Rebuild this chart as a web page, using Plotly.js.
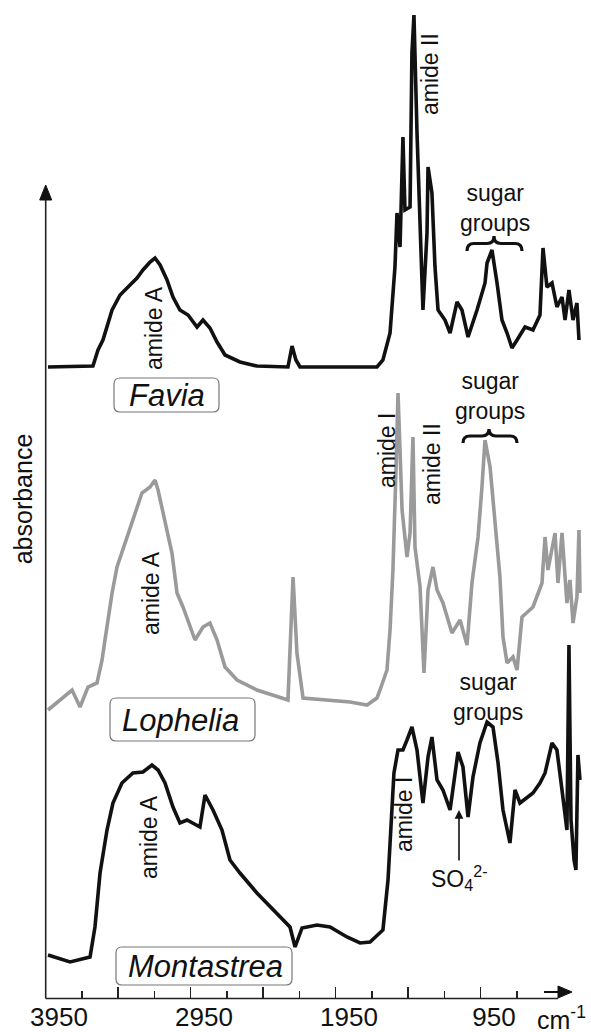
<!DOCTYPE html>
<html>
<head>
<meta charset="utf-8">
<script src="https://cdn.plot.ly/plotly-3.0.1.min.js"></script>
<style>html,body{margin:0;padding:0;background:#fff;}#chart{width:591px;height:1032px;}</style>
</head>
<body>
<div id="chart"></div>
<script>
// ---- data (wavenumber in cm-1, absorbance in arbitrary units above each spectrum's baseline) ----
const wnFavia = [4026,3716,3681,3647,3584,3529,3474,3412,3371,3322,3288,3253,3205,3164,3116,3060,2998,2957,2909,2860,2805,2702,2585,2371,2343,2316,2288,1757,1716,1667,1633,1619,1598,1578,1564,1529,1516,1502,1481,1460,1440,1412,1405,1378,1357,1336,1288,1253,1205,1171,1129,1067,1012,998,964,929,895,860,826,791,736,681,633,612,585,550,516,481,460,433,405,378,364];
const absFavia = [0.01,0.02,0.18,0.28,0.58,0.73,0.81,0.90,0.98,1.06,1.10,1.03,0.88,0.71,0.58,0.53,0.41,0.48,0.40,0.26,0.13,0.06,0.02,0.01,0.22,0.08,0.01,0.01,0.08,0.35,1.01,1.55,1.21,2.31,1.58,1.61,3.15,3.53,2.35,1.35,0.58,1.35,2.01,1.75,1.01,0.58,0.48,0.35,0.66,0.58,0.31,0.58,0.85,1.05,1.18,0.85,0.48,0.35,0.20,0.28,0.41,0.38,0.53,1.20,0.81,0.85,0.61,0.71,0.48,0.78,0.48,0.65,0.28];

const wnLophelia = [4026,3922,3860,3805,3750,3688,3653,3633,3584,3550,3495,3440,3378,3322,3288,3267,3219,3171,3136,3095,3012,2957,2909,2860,2805,2722,2585,2371,2336,2309,2267,2129,1943,1826,1757,1736,1688,1667,1647,1626,1612,1584,1550,1529,1509,1495,1460,1433,1405,1371,1343,1302,1240,1184,1136,1102,1081,1060,1033,1012,977,943,909,888,860,819,791,757,681,619,598,578,529,509,481,447,426,405,378,364,357];
const absLophelia = [-0.05,0.07,0.15,-0.02,0.18,0.22,0.45,0.65,1.12,1.38,1.62,1.85,2.12,2.18,2.25,2.15,1.85,1.52,1.12,0.98,0.65,0.78,0.82,0.65,0.38,0.25,0.15,0.05,1.28,0.52,0.07,0.05,0.03,0.00,0.07,0.15,0.35,0.75,1.35,2.35,3.12,1.95,1.48,1.72,2.68,1.58,1.18,0.32,1.15,1.38,1.15,1.02,0.72,0.85,0.60,1.22,1.48,1.68,2.18,2.65,2.38,1.85,1.28,0.68,0.42,0.48,0.35,0.88,0.98,1.22,1.68,1.35,1.72,1.22,1.72,1.02,1.25,0.82,1.08,1.75,1.12];

const wnMontastrea = [4026,3874,3736,3702,3667,3619,3578,3516,3440,3371,3309,3267,3219,3164,3116,3067,2978,2943,2888,2826,2771,2702,2585,2474,2357,2322,2274,2171,2081,1964,1874,1805,1716,1681,1667,1640,1612,1578,1550,1516,1481,1440,1405,1378,1343,1302,1253,1219,1198,1164,1129,1095,1047,998,957,922,888,840,805,771,722,681,633,598,550,516,481,447,433,419,398,385,371,357];
const absMontastrea = [0.03,-0.04,0.01,0.31,0.85,1.28,1.55,1.75,1.85,1.86,1.93,1.88,1.75,1.51,1.35,1.38,1.31,1.63,1.48,1.28,0.98,0.85,0.65,0.48,0.31,0.11,0.30,0.33,0.31,0.21,0.15,0.16,0.28,0.78,1.21,1.85,2.08,2.08,2.18,2.31,2.08,1.55,2.01,2.21,1.78,1.68,1.48,1.85,2.06,1.91,1.41,1.81,2.15,2.36,2.31,1.95,1.48,1.15,1.68,1.55,1.61,1.65,1.75,1.85,2.15,2.08,1.68,1.28,3.13,1.38,0.98,0.88,2.03,1.78];

// vertical stacking offsets of the three spectra
const offsetFavia = 6.30;
const offsetLophelia = 2.93;
const offsetMontastrea = 0.40;

// axis tick labels and tick positions
const tickLabelVals = [3950, 2950, 1950, 950];
const tickLabelText = ['3950', '2950', '1950', '950'];
const shortTickVals = [3793, 3293, 2793, 2293, 1793, 1293, 793];
const tallTickVals = [3543, 3043, 2543, 2043, 1543, 1043];

// ---- layout helpers (pixel -> paper) ----
const W = 591, H = 1032;
const PL = 45, PR = 585, PT = 0, PB = 998;
const XR = [4046.6, 322.4];
const YR = [0, 9.98];
function px(x){ return (x - PL) / (PR - PL); }
function py(y){ return (PB - y) / (PB - PT); }
function P(x, y){ return px(x) + ',' + py(y); }
function roundRect(x0, y0, x1, y1, r){
  return 'M' + P(x0 + r, y0) + ' L' + P(x1 - r, y0) + ' Q' + P(x1, y0) + ' ' + P(x1, y0 + r) +
    ' L' + P(x1, y1 - r) + ' Q' + P(x1, y1) + ' ' + P(x1 - r, y1) +
    ' L' + P(x0 + r, y1) + ' Q' + P(x0, y1) + ' ' + P(x0, y1 - r) +
    ' L' + P(x0, y0 + r) + ' Q' + P(x0, y0) + ' ' + P(x0 + r, y0) + ' Z';
}
function brace(x0, x1, xm, yb, yt){
  const ym = (yb + yt) / 2;
  return 'M' + P(x0, yb) + ' Q' + P(x0, ym) + ' ' + P(x0 + 7, ym) +
    ' L' + P(xm - 7, ym) + ' Q' + P(xm, ym) + ' ' + P(xm, yt) +
    ' Q' + P(xm, ym) + ' ' + P(xm + 7, ym) +
    ' L' + P(x1 - 7, ym) + ' Q' + P(x1, ym) + ' ' + P(x1, yb);
}

const FONT = '"Liberation Sans", Arial, Helvetica, sans-serif';
const INK = '#111111';

function shifted(arr, off){ return arr.map(v => v + off); }

const traces = [
  {x: wnFavia, y: shifted(absFavia, offsetFavia), name: 'Favia', type: 'scatter', mode: 'lines',
   line: {color: '#111111', width: 3.6}, hoverinfo: 'skip'},
  {x: wnLophelia, y: shifted(absLophelia, offsetLophelia), name: 'Lophelia', type: 'scatter', mode: 'lines',
   line: {color: '#9a9a9a', width: 3.6}, hoverinfo: 'skip'},
  {x: wnMontastrea, y: shifted(absMontastrea, offsetMontastrea), name: 'Montastrea', type: 'scatter', mode: 'lines',
   line: {color: '#111111', width: 3.6}, hoverinfo: 'skip'},
  {x: [], y: [], xaxis: 'x2', yaxis: 'y', type: 'scatter', hoverinfo: 'skip'}
];

function vtext(text, x, y){
  return {text: text, x: px(x), y: py(y), xref: 'paper', yref: 'paper', showarrow: false,
          textangle: -90, xanchor: 'center', yanchor: 'middle', font: {family: FONT, size: 23, color: INK}};
}
function htext(text, x, y, size){
  return {text: text, x: px(x), y: py(y), xref: 'paper', yref: 'paper', showarrow: false,
          xanchor: 'center', yanchor: 'middle', font: {family: FONT, size: size || 23, color: INK}};
}

const annotations = [
  vtext('amide A', 154, 328),
  vtext('amide II', 430, 74),
  htext('sugar<br>groups', 495, 208),
  htext('<i>Favia</i>', 167, 395, 31),

  vtext('amide A', 151, 593),
  vtext('amide I', 387, 451),
  vtext('amide II', 432, 464),
  htext('sugar<br>groups', 490, 396),
  htext('<i>Lophelia</i>', 180, 720, 31),

  vtext('amide A', 149, 837),
  vtext('amide I', 404, 815),
  htext('sugar<br>groups', 488, 697),
  htext('<i>Montastrea</i>', 205, 966, 31),
  {text: 'SO<sub>4</sub><sup>2-</sup>', x: px(459), y: py(810), xref: 'paper', yref: 'paper',
   showarrow: true, ax: 0, ay: 68, arrowhead: 2, arrowsize: 1.1, arrowwidth: 1.6, arrowcolor: INK,
   font: {family: FONT, size: 23, color: INK}},

  {text: 'cm<sup>-1</sup>', x: px(588), y: py(1018), xref: 'paper', yref: 'paper', showarrow: false,
   xanchor: 'right', yanchor: 'middle', font: {family: FONT, size: 25, color: INK}}
];

const axisX = 45.7, axisY = 998.5;
const shapes = [
  // vertical (absorbance) axis with arrow head
  {type: 'line', xref: 'paper', yref: 'paper', x0: px(axisX), x1: px(axisX), y0: py(axisY), y1: py(196),
   line: {color: '#222', width: 1.6}},
  {type: 'path', xref: 'paper', yref: 'paper', path: 'M' + P(axisX, 185) + ' L' + P(axisX - 6, 200) + ' L' + P(axisX + 6, 200) + ' Z',
   fillcolor: '#111', line: {color: '#111', width: 1}},
  // horizontal (wavenumber) axis
  {type: 'line', xref: 'paper', yref: 'paper', x0: px(axisX), x1: px(558), y0: py(axisY), y1: py(axisY),
   line: {color: '#222', width: 1.6}},
  // direction arrow
  {type: 'line', xref: 'paper', yref: 'paper', x0: px(544), x1: px(560), y0: py(992), y1: py(992),
   line: {color: '#111', width: 2}},
  {type: 'path', xref: 'paper', yref: 'paper', path: 'M' + P(572, 992) + ' L' + P(558, 986) + ' L' + P(558, 998) + ' Z',
   fillcolor: '#111', line: {color: '#111', width: 1}},
  // sample name boxes
  {type: 'path', xref: 'paper', yref: 'paper', path: roundRect(114, 378, 219, 412, 6), line: {color: '#777', width: 1.2}},
  {type: 'path', xref: 'paper', yref: 'paper', path: roundRect(110, 698, 255, 741, 6), line: {color: '#777', width: 1.2}},
  {type: 'path', xref: 'paper', yref: 'paper', path: roundRect(116, 947, 292, 985, 6), line: {color: '#777', width: 1.2}},
  // braces over sugar groups
  {type: 'path', xref: 'paper', yref: 'paper', path: brace(467, 522, 494, 251, 236), line: {color: '#111', width: 3.2}},
  {type: 'path', xref: 'paper', yref: 'paper', path: brace(463, 517, 489, 443, 429), line: {color: '#111', width: 3.2}}
];

const baseX = {range: XR, showgrid: false, zeroline: false, showline: false, fixedrange: true};
const layout = {
  width: W, height: H,
  margin: {l: PL, r: W - PR, t: PT, b: H - PB, pad: 0},
  paper_bgcolor: '#ffffff', plot_bgcolor: '#ffffff',
  showlegend: false,
  font: {family: FONT, color: INK},
  xaxis: Object.assign({}, baseX, {
    tickmode: 'array', tickvals: tickLabelVals, ticktext: tickLabelText, ticks: '',
    tickfont: {family: FONT, size: 26, color: INK}, ticklabelstandoff: 1
  }),
  xaxis2: Object.assign({}, baseX, {
    overlaying: 'x', anchor: 'y', side: 'bottom', tickmode: 'array', tickvals: tallTickVals,
    ticks: 'inside', ticklen: 11, tickwidth: 1.5, tickcolor: '#222', showticklabels: false,
    minor: {tickmode: 'array', tickvals: shortTickVals, ticks: 'inside', ticklen: 7, tickwidth: 1.5,
            tickcolor: '#222', showgrid: false}
  }),
  yaxis: {range: YR, showgrid: false, zeroline: false, showline: false, showticklabels: false, ticks: '',
    fixedrange: true,
    title: {text: 'absorbance', font: {family: FONT, size: 25, color: INK}, standoff: 4}},
  annotations: annotations,
  shapes: shapes
};

Plotly.newPlot('chart', traces, layout, {displayModeBar: false, staticPlot: true});
</script>
</body>
</html>
